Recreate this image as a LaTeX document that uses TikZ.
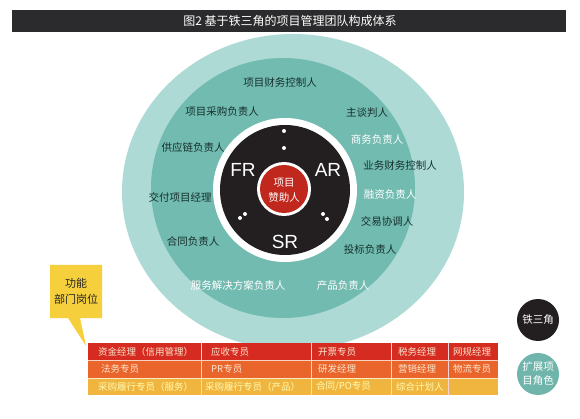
\documentclass[tikz,border=0pt]{standalone}
\usepackage{fontspec}
\setmainfont{Noto Sans CJK SC}
\newfontfamily\latinsf{Liberation Sans}
\usepackage{tikz}
\definecolor{titlegray}{HTML}{2B2A2C}
\definecolor{outerteal}{HTML}{AEDAD5}
\definecolor{midteal}{HTML}{72BBB0}
\definecolor{coreblack}{HTML}{231F20}
\definecolor{corered}{HTML}{C0281D}
\definecolor{labeldark}{HTML}{16302D}
\definecolor{rowred}{HTML}{D52B20}
\definecolor{roworange}{HTML}{E9652B}
\definecolor{rowyellow}{HTML}{EFB53F}
\definecolor{celltext}{HTML}{FCE6CF}
\definecolor{calloutyellow}{HTML}{F6CF3C}
\definecolor{legendteal}{HTML}{6FB5AB}

\begin{document}
\begin{tikzpicture}[x=1pt,y=-1pt,
  lbl/.style={font=\fontsize{10.5}{12}\selectfont, text=labeldark, inner sep=0pt},
  wlbl/.style={lbl, text=white},
  big/.style={font=\latinsf\fontsize{19}{20}\selectfont, text=white, inner sep=0pt},
  celltxt/.style={anchor=west, font=\fontsize{9.5}{10}\selectfont, text=celltext, inner sep=0pt}]
\useasboundingbox (0,0) rectangle (580,419);
\fill[white] (0,0) rectangle (580,419);

\fill[titlegray] (12,10) rectangle (566,32);
\node[text=white, font=\fontsize{12}{13}\selectfont, inner sep=0pt] (title) at (290,21) {图2\ 基于铁三角的项目管理团队构成体系};

\fill[outerteal] (293,192) ellipse [x radius=171pt, y radius=158pt];
\fill[midteal] (283,188) ellipse [x radius=132pt, y radius=130pt];
\fill[white] (285,190) circle [radius=72pt];
\fill[coreblack] (285,190) circle [radius=65pt];
\fill[white] (284,189) circle [radius=27pt];
\fill[corered] (284,189) circle [radius=24pt];

\foreach \x/\y in {284/131, 284/148, 240/218, 245/214, 323/214, 327/219} {
\fill[white] (\x,\y) circle [radius=2pt];
}

\node[big] (fr) at (243,170) {FR};
\node[big] (ar) at (328,170) {AR};
\node[big] (sr) at (285,242) {SR};
\node[wlbl, align=center, font=\fontsize{10.5}{15}\selectfont] (sponsor) at (284,190) {项目\\赞助人};

\foreach \x/\y/\t/\n in {280/83/项目财务控制人/pfc, 222/112/项目采购负责人/ppm,
  367/113/主谈判人/neg, 193/148/供应链负责人/scm, 400/166/业务财务控制人/bfc,
  180/197/交付项目经理/dpm, 387/221/交易协调人/trc, 193/242/合同负责人/ctm,
  370/250/投标负责人/bid} {
\node[lbl] (\n) at (\x,\y) {\t};
}
\foreach \x/\y/\t/\n in {377/140/商务负责人/biz, 390/195/融资负责人/fin,
  238/285/服务解决方案负责人/svc, 343/286/产品负责人/prd} {
\node[wlbl] (\n) at (\x,\y) {\t};
}

\fill[calloutyellow] (50,265) -- (102,265) -- (102,318) -- (80,318) -- (86,346) -- (68,318) -- (50,318) -- cycle;
\node[lbl, text=black!85, align=center, font=\fontsize{11}{16}\selectfont] (func) at (76,291) {功能\\部门岗位};

\fill[rowred] (88,343) rectangle (498,360);
\fill[roworange] (88,360) rectangle (498,378);
\fill[rowyellow] (88,378) rectangle (498,395);
\foreach \x in {201,311,391,448} {
\draw[white!80!rowred, line width=0.8pt] (\x,343) -- (\x,395);
}
\draw[white!70!roworange, line width=0.6pt] (88,360) -- (498,360);
\draw[white!70!rowyellow, line width=0.6pt] (88,378) -- (498,378);

\foreach \t [count=\i] in {资金经理（信用管理）, 应收专员, 开票专员, 税务经理, 网规经理} {
\pgfmathsetmacro{\cx}{{98,211,318,398,453}[\i-1]}
\node[celltxt] (ra\i) at (\cx,351.5) {\t};
}
\foreach \t [count=\i] in {法务专员, PR专员, 研发经理, 营销经理, 物流专员} {
\pgfmathsetmacro{\cx}{{101,211,318,398,453}[\i-1]}
\node[celltxt] (rb\i) at (\cx,369) {\t};
}
\foreach \t [count=\i] in {采购履行专员（服务）, 采购履行专员（产品）, 合同/PO专员, 综合计划人} {
\pgfmathsetmacro{\cx}{{98,205,316,396}[\i-1]}
\node[celltxt, text=yellow!30] (rc\i) at (\cx,386.5) {\t};
}

\fill[coreblack] (538,320) circle [radius=21pt];
\node[wlbl, font=\fontsize{10.5}{12}\selectfont] (iron) at (538,320) {铁三角};
\fill[legendteal] (538,374) circle [radius=21pt];
\node[wlbl, align=center, font=\fontsize{10.5}{14}\selectfont] (ext) at (538,374) {扩展项\\目角色};
\end{tikzpicture}
\end{document}
